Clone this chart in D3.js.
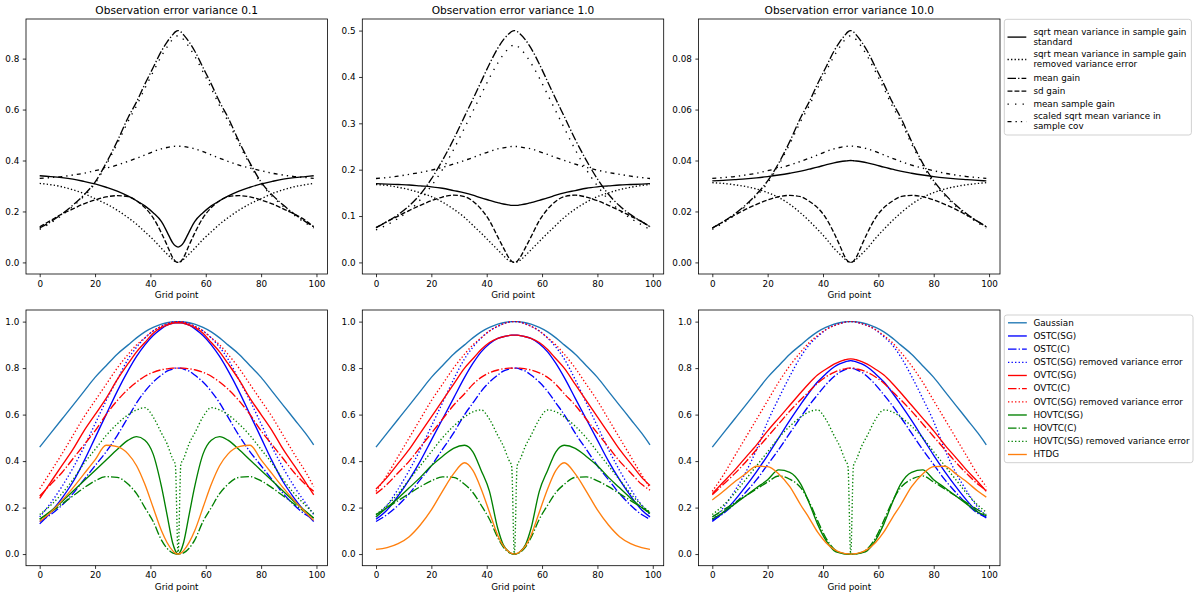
<!DOCTYPE html>
<html><head><meta charset="utf-8">
<script src="https://cdn.jsdelivr.net/npm/d3@7"></script>
<style>body{margin:0;background:#fff}svg{display:block}text{font-family:"DejaVu Sans",sans-serif;fill:#000}</style>
</head><body><svg id="c" width="1200" height="599"></svg>
<script>
// ---------- data ----------
const gridX = [0,4,8,12,16,20,24,28,32,35,38,41,44,46,48,49,50,51,52,54,56,59,62,65,68,72,76,80,84,88,92,96,99];

// top row, observation error variance 0.1
const top01_std    = [0.340,0.337,0.333,0.327,0.318,0.308,0.295,0.280,0.260,0.242,0.222,0.195,0.160,0.120,0.078,0.065,0.060,0.065,0.078,0.120,0.160,0.195,0.222,0.242,0.260,0.280,0.295,0.308,0.318,0.327,0.333,0.337,0.340];
const top01_rve    = [0.310,0.305,0.297,0.285,0.270,0.250,0.230,0.205,0.175,0.150,0.120,0.090,0.055,0.033,0.012,0.003,0.000,0.003,0.012,0.033,0.055,0.090,0.120,0.150,0.175,0.205,0.230,0.250,0.270,0.285,0.297,0.305,0.310];
const top01_mean   = [0.135,0.160,0.190,0.225,0.265,0.315,0.390,0.475,0.570,0.630,0.700,0.765,0.830,0.865,0.893,0.905,0.910,0.905,0.893,0.865,0.830,0.765,0.700,0.630,0.570,0.475,0.390,0.315,0.265,0.225,0.190,0.160,0.140];
const top01_sd     = [0.140,0.165,0.190,0.210,0.230,0.245,0.257,0.262,0.258,0.242,0.215,0.175,0.115,0.068,0.020,0.005,0.000,0.005,0.020,0.068,0.115,0.175,0.215,0.242,0.258,0.262,0.257,0.245,0.230,0.210,0.190,0.165,0.140];
const top01_msg    = [0.130,0.155,0.185,0.220,0.260,0.310,0.383,0.465,0.555,0.615,0.683,0.748,0.810,0.845,0.875,0.885,0.890,0.885,0.875,0.845,0.810,0.748,0.683,0.615,0.555,0.465,0.383,0.310,0.260,0.220,0.185,0.155,0.135];
const top01_scaled = [0.330,0.333,0.337,0.343,0.350,0.360,0.370,0.382,0.397,0.409,0.422,0.435,0.446,0.451,0.455,0.456,0.456,0.456,0.455,0.451,0.446,0.435,0.422,0.409,0.397,0.382,0.370,0.360,0.350,0.343,0.337,0.333,0.330];

// top row, observation error variance 1.0
const top1_std    = [0.170,0.169,0.168,0.167,0.165,0.163,0.160,0.155,0.150,0.145,0.139,0.134,0.129,0.126,0.124,0.123,0.123,0.123,0.124,0.126,0.129,0.134,0.139,0.145,0.150,0.155,0.160,0.163,0.165,0.167,0.168,0.169,0.170];
const top1_rve    = [0.168,0.166,0.162,0.157,0.150,0.142,0.130,0.115,0.097,0.080,0.063,0.045,0.027,0.015,0.004,0.001,0.000,0.001,0.004,0.015,0.027,0.045,0.063,0.080,0.097,0.115,0.130,0.142,0.150,0.157,0.162,0.166,0.168];
const top1_mean   = [0.075,0.088,0.103,0.122,0.147,0.180,0.220,0.265,0.315,0.352,0.390,0.428,0.462,0.480,0.493,0.498,0.500,0.498,0.493,0.480,0.462,0.428,0.390,0.352,0.315,0.265,0.220,0.180,0.147,0.122,0.103,0.088,0.077];
const top1_sd     = [0.075,0.088,0.100,0.112,0.123,0.133,0.141,0.145,0.142,0.132,0.115,0.090,0.055,0.032,0.010,0.0025,0.000,0.0025,0.010,0.032,0.055,0.090,0.115,0.132,0.142,0.145,0.141,0.133,0.123,0.112,0.100,0.088,0.077];
const top1_msg    = [0.070,0.081,0.095,0.112,0.135,0.165,0.200,0.243,0.290,0.326,0.362,0.398,0.430,0.448,0.462,0.467,0.470,0.467,0.462,0.448,0.430,0.398,0.362,0.326,0.290,0.243,0.200,0.165,0.135,0.112,0.095,0.081,0.071];
const top1_scaled = [0.181,0.183,0.186,0.190,0.194,0.199,0.205,0.212,0.220,0.226,0.233,0.239,0.245,0.247,0.249,0.250,0.250,0.250,0.249,0.247,0.245,0.239,0.233,0.226,0.220,0.212,0.205,0.199,0.194,0.190,0.186,0.183,0.181];

// top row, observation error variance 10.0
const top10_std    = [0.0320,0.0322,0.0325,0.0328,0.0332,0.0337,0.0343,0.0350,0.0358,0.0366,0.0374,0.0383,0.0391,0.0395,0.0398,0.0399,0.0400,0.0399,0.0398,0.0395,0.0391,0.0383,0.0374,0.0366,0.0358,0.0350,0.0343,0.0337,0.0332,0.0328,0.0325,0.0322,0.0320];
const top10_rve    = [0.0313,0.0310,0.0305,0.0298,0.0288,0.0274,0.0255,0.0228,0.0193,0.0163,0.0130,0.0095,0.0055,0.0033,0.0012,0.0003,0.0000,0.0003,0.0012,0.0033,0.0055,0.0095,0.0130,0.0163,0.0193,0.0228,0.0255,0.0274,0.0288,0.0298,0.0305,0.0310,0.0313];
const top10_mean   = [0.0135,0.0160,0.0190,0.0225,0.0268,0.0320,0.0390,0.0475,0.0570,0.0630,0.0700,0.0765,0.0830,0.0865,0.0893,0.0905,0.0910,0.0905,0.0893,0.0865,0.0830,0.0765,0.0700,0.0630,0.0570,0.0475,0.0390,0.0320,0.0268,0.0225,0.0190,0.0160,0.0140];
const top10_sd     = [0.0135,0.0160,0.0185,0.0208,0.0228,0.0245,0.0258,0.0263,0.0258,0.0240,0.0215,0.0175,0.0115,0.0068,0.0020,0.0005,0.0000,0.0005,0.0020,0.0068,0.0115,0.0175,0.0215,0.0240,0.0258,0.0263,0.0258,0.0245,0.0228,0.0208,0.0185,0.0160,0.0140];
const top10_msg    = [0.0130,0.0155,0.0185,0.0220,0.0262,0.0312,0.0383,0.0465,0.0555,0.0615,0.0683,0.0748,0.0810,0.0845,0.0875,0.0885,0.0890,0.0885,0.0875,0.0845,0.0810,0.0748,0.0683,0.0615,0.0555,0.0465,0.0383,0.0312,0.0262,0.0220,0.0185,0.0155,0.0135];
const top10_scaled = [0.0330,0.0333,0.0337,0.0343,0.0350,0.0360,0.0370,0.0382,0.0397,0.0409,0.0422,0.0435,0.0446,0.0451,0.0455,0.0456,0.0457,0.0456,0.0455,0.0451,0.0446,0.0435,0.0422,0.0409,0.0397,0.0382,0.0370,0.0360,0.0350,0.0343,0.0337,0.0333,0.0330];

// bottom row (shared Gaussian)
const gaussian = [0.460,0.520,0.580,0.640,0.700,0.760,0.810,0.860,0.900,0.930,0.956,0.975,0.989,0.995,0.999,1.000,1.000,1.000,0.999,0.995,0.989,0.975,0.956,0.930,0.900,0.860,0.810,0.760,0.700,0.640,0.580,0.520,0.470];

// bottom row, variance 0.1
const b01_ostcSG  = [0.130,0.180,0.240,0.310,0.400,0.500,0.600,0.700,0.790,0.850,0.900,0.940,0.970,0.985,0.993,0.995,0.995,0.995,0.993,0.985,0.970,0.940,0.900,0.850,0.790,0.700,0.600,0.500,0.400,0.310,0.240,0.180,0.140];
const b01_ostcC   = [0.140,0.170,0.210,0.260,0.320,0.380,0.440,0.510,0.590,0.650,0.700,0.740,0.770,0.787,0.796,0.800,0.800,0.800,0.796,0.787,0.770,0.740,0.700,0.650,0.590,0.510,0.440,0.380,0.320,0.260,0.210,0.170,0.150];
const b01_ostcRVE = [0.160,0.220,0.290,0.370,0.460,0.560,0.660,0.750,0.840,0.890,0.930,0.960,0.980,0.990,0.998,1.000,1.000,1.000,0.998,0.990,0.980,0.960,0.930,0.890,0.840,0.750,0.660,0.560,0.460,0.370,0.290,0.220,0.170];
const b01_ovtcSG  = [0.240,0.310,0.380,0.450,0.530,0.600,0.670,0.750,0.820,0.870,0.910,0.950,0.975,0.985,0.993,0.995,0.995,0.995,0.993,0.985,0.975,0.950,0.910,0.870,0.820,0.750,0.670,0.600,0.530,0.450,0.380,0.310,0.255];
const b01_ovtcC   = [0.250,0.300,0.350,0.410,0.470,0.530,0.600,0.660,0.710,0.740,0.765,0.782,0.793,0.797,0.800,0.800,0.800,0.800,0.800,0.797,0.793,0.782,0.765,0.740,0.710,0.660,0.600,0.530,0.470,0.410,0.350,0.300,0.270];
const b01_ovtcRVE = [0.280,0.355,0.430,0.510,0.590,0.660,0.730,0.800,0.860,0.900,0.930,0.960,0.980,0.990,0.998,1.000,1.000,1.000,0.998,0.990,0.980,0.960,0.930,0.900,0.860,0.800,0.730,0.660,0.590,0.510,0.430,0.355,0.290];
const b01_hovtcSG = [0.150,0.185,0.225,0.270,0.315,0.360,0.405,0.450,0.490,0.505,0.490,0.430,0.290,0.170,0.050,0.015,0.000,0.015,0.050,0.170,0.290,0.430,0.490,0.505,0.490,0.450,0.405,0.360,0.315,0.270,0.225,0.185,0.155];
const b01_hovtcC  = [0.150,0.180,0.215,0.250,0.285,0.315,0.333,0.330,0.300,0.260,0.200,0.140,0.060,0.025,0.005,0.001,0.000,0.001,0.005,0.025,0.060,0.140,0.200,0.260,0.300,0.330,0.333,0.315,0.285,0.250,0.215,0.180,0.155];
const b01_hovtcRVE= [0.170,0.210,0.260,0.320,0.390,0.450,0.510,0.560,0.600,0.620,0.630,0.590,0.520,0.475,0.410,0.385,0.000,0.385,0.410,0.475,0.520,0.590,0.630,0.620,0.600,0.560,0.510,0.450,0.390,0.320,0.260,0.210,0.175];
const b01_htdg    = [0.140,0.180,0.230,0.285,0.345,0.405,0.468,0.462,0.430,0.380,0.300,0.200,0.100,0.050,0.015,0.004,0.000,0.004,0.015,0.050,0.100,0.200,0.300,0.380,0.430,0.462,0.468,0.405,0.345,0.285,0.230,0.180,0.145];

// bottom row, variance 1.0
const b1_ostcSG  = [0.150,0.190,0.250,0.320,0.400,0.490,0.580,0.670,0.760,0.820,0.870,0.905,0.928,0.935,0.940,0.942,0.942,0.942,0.940,0.935,0.928,0.905,0.870,0.820,0.760,0.670,0.580,0.490,0.400,0.320,0.250,0.190,0.160];
const b1_ostcC   = [0.140,0.170,0.210,0.260,0.320,0.380,0.450,0.520,0.600,0.650,0.700,0.740,0.770,0.787,0.796,0.800,0.800,0.800,0.796,0.787,0.770,0.740,0.700,0.650,0.600,0.520,0.450,0.380,0.320,0.260,0.210,0.170,0.150];
const b1_ostcRVE = [0.160,0.210,0.280,0.360,0.450,0.550,0.650,0.750,0.840,0.890,0.930,0.960,0.980,0.990,0.998,1.000,1.000,1.000,0.998,0.990,0.980,0.960,0.930,0.890,0.840,0.750,0.650,0.550,0.450,0.360,0.280,0.210,0.170];
const b1_ovtcSG  = [0.280,0.330,0.390,0.450,0.520,0.590,0.660,0.730,0.800,0.840,0.880,0.910,0.928,0.935,0.940,0.942,0.942,0.942,0.940,0.935,0.928,0.910,0.880,0.840,0.800,0.730,0.660,0.590,0.520,0.450,0.390,0.330,0.295];
const b1_ovtcC   = [0.260,0.300,0.350,0.400,0.460,0.520,0.580,0.640,0.690,0.730,0.760,0.780,0.792,0.797,0.800,0.800,0.800,0.800,0.800,0.797,0.792,0.780,0.760,0.730,0.690,0.640,0.580,0.520,0.460,0.400,0.350,0.300,0.275];
const b1_ovtcRVE = [0.270,0.340,0.420,0.500,0.580,0.660,0.730,0.800,0.860,0.900,0.930,0.960,0.980,0.990,0.998,1.000,1.000,1.000,0.998,0.990,0.980,0.960,0.930,0.900,0.860,0.800,0.730,0.660,0.580,0.500,0.420,0.340,0.285];
const b1_hovtcSG = [0.160,0.200,0.240,0.285,0.330,0.380,0.420,0.455,0.468,0.440,0.360,0.270,0.110,0.040,0.010,0.002,0.000,0.002,0.010,0.040,0.110,0.270,0.360,0.440,0.468,0.455,0.420,0.380,0.330,0.285,0.240,0.200,0.175];
const b1_hovtcC  = [0.170,0.200,0.230,0.260,0.290,0.315,0.332,0.330,0.300,0.265,0.210,0.150,0.070,0.030,0.007,0.002,0.000,0.002,0.007,0.030,0.070,0.150,0.210,0.265,0.300,0.330,0.332,0.315,0.290,0.260,0.230,0.200,0.180];
const b1_hovtcRVE= [0.170,0.210,0.260,0.320,0.380,0.440,0.500,0.550,0.590,0.612,0.620,0.580,0.510,0.465,0.405,0.380,0.000,0.380,0.405,0.465,0.510,0.580,0.620,0.612,0.590,0.550,0.500,0.440,0.380,0.320,0.260,0.210,0.180];
const b1_htdg    = [0.020,0.028,0.045,0.075,0.125,0.190,0.270,0.345,0.393,0.360,0.280,0.180,0.080,0.035,0.010,0.003,0.000,0.003,0.010,0.035,0.080,0.180,0.280,0.360,0.393,0.345,0.270,0.190,0.125,0.075,0.045,0.028,0.020];

// bottom row, variance 10.0
const b10_ostcSG  = [0.140,0.180,0.230,0.290,0.355,0.425,0.500,0.575,0.645,0.695,0.740,0.775,0.805,0.818,0.827,0.830,0.832,0.830,0.827,0.818,0.805,0.775,0.740,0.695,0.645,0.575,0.500,0.425,0.355,0.290,0.230,0.180,0.155];
const b10_ostcC   = [0.145,0.175,0.215,0.265,0.320,0.385,0.450,0.520,0.590,0.640,0.685,0.728,0.764,0.782,0.794,0.798,0.800,0.798,0.794,0.782,0.764,0.728,0.685,0.640,0.590,0.520,0.450,0.385,0.320,0.265,0.215,0.175,0.160];
const b10_ostcRVE = [0.150,0.200,0.270,0.350,0.450,0.570,0.670,0.765,0.850,0.900,0.935,0.965,0.983,0.991,0.998,1.000,1.000,1.000,0.998,0.991,0.983,0.965,0.935,0.900,0.850,0.765,0.670,0.570,0.450,0.350,0.270,0.200,0.165];
const b10_ovtcSG  = [0.260,0.310,0.360,0.415,0.470,0.530,0.585,0.640,0.695,0.735,0.770,0.795,0.817,0.828,0.836,0.839,0.840,0.839,0.836,0.828,0.817,0.795,0.770,0.735,0.695,0.640,0.585,0.530,0.470,0.415,0.360,0.310,0.270];
const b10_ovtcC   = [0.255,0.300,0.345,0.395,0.450,0.505,0.560,0.615,0.665,0.700,0.735,0.762,0.782,0.791,0.797,0.800,0.800,0.800,0.797,0.791,0.782,0.762,0.735,0.700,0.665,0.615,0.560,0.505,0.450,0.395,0.345,0.300,0.275];
const b10_ovtcRVE = [0.270,0.340,0.420,0.500,0.580,0.660,0.740,0.810,0.870,0.910,0.940,0.965,0.983,0.991,0.998,1.000,1.000,1.000,0.998,0.991,0.983,0.965,0.940,0.910,0.870,0.810,0.740,0.660,0.580,0.500,0.420,0.340,0.290];
const b10_hovtcSG = [0.150,0.180,0.215,0.250,0.285,0.320,0.362,0.352,0.300,0.220,0.130,0.060,0.015,0.005,0.001,0.000,0.000,0.000,0.001,0.005,0.015,0.060,0.130,0.220,0.300,0.352,0.362,0.320,0.285,0.250,0.215,0.180,0.165];
const b10_hovtcC  = [0.160,0.190,0.220,0.250,0.280,0.310,0.336,0.322,0.285,0.225,0.145,0.070,0.022,0.007,0.001,0.000,0.000,0.000,0.001,0.007,0.022,0.070,0.145,0.225,0.285,0.322,0.336,0.310,0.280,0.250,0.220,0.190,0.170];
const b10_hovtcRVE= [0.170,0.210,0.260,0.320,0.380,0.440,0.500,0.550,0.590,0.612,0.620,0.580,0.510,0.465,0.405,0.380,0.000,0.380,0.405,0.465,0.510,0.580,0.620,0.612,0.590,0.550,0.500,0.440,0.380,0.320,0.260,0.210,0.180];
const b10_htdg    = [0.233,0.270,0.310,0.345,0.378,0.376,0.345,0.290,0.210,0.155,0.095,0.050,0.020,0.008,0.002,0.001,0.000,0.001,0.002,0.008,0.020,0.050,0.095,0.155,0.210,0.290,0.345,0.376,0.378,0.345,0.310,0.270,0.245];

// ticks / labels
const xTicks = [0,20,40,60,80,100];
const yTicksTop = [[0,0.2,0.4,0.6,0.8],[0,0.1,0.2,0.3,0.4,0.5],[0,0.02,0.04,0.06,0.08]];
const yFmtTop = [".1f",".1f",".2f"];
const yTicksBot = [0,0.2,0.4,0.6,0.8,1.0];
const titles = ["Observation error variance 0.1","Observation error variance 1.0","Observation error variance 10.0"];
const topLabels = [["sqrt mean variance in sample gain","standard"],["sqrt mean variance in sample gain","removed variance error"],["mean gain"],["sd gain"],["mean sample gain"],["scaled sqrt mean variance in","sample cov"]];
const botLabels = ["Gaussian","OSTC(SG)","OSTC(C)","OSTC(SG) removed variance error","OVTC(SG)","OVTC(C)","OVTC(SG) removed variance error","HOVTC(SG)","HOVTC(C)","HOVTC(SG) removed variance error","HTDG"];
const botColors = ["#1f77b4","#0000ff","#0000ff","#0000ff","#ff0000","#ff0000","#ff0000","#008000","#008000","#008000","#ff7f0e"];

const topSeries = [
  [top01_std,top01_rve,top01_mean,top01_sd,top01_msg,top01_scaled],
  [top1_std,top1_rve,top1_mean,top1_sd,top1_msg,top1_scaled],
  [top10_std,top10_rve,top10_mean,top10_sd,top10_msg,top10_scaled]
];
const botSeries = [
  [gaussian,b01_ostcSG,b01_ostcC,b01_ostcRVE,b01_ovtcSG,b01_ovtcC,b01_ovtcRVE,b01_hovtcSG,b01_hovtcC,b01_hovtcRVE,b01_htdg],
  [gaussian,b1_ostcSG,b1_ostcC,b1_ostcRVE,b1_ovtcSG,b1_ovtcC,b1_ovtcRVE,b1_hovtcSG,b1_hovtcC,b1_hovtcRVE,b1_htdg],
  [gaussian,b10_ostcSG,b10_ostcC,b10_ostcRVE,b10_ovtcSG,b10_ovtcC,b10_ovtcRVE,b10_hovtcSG,b10_hovtcC,b10_hovtcRVE,b10_htdg]
];

// ---------- styles / layout ----------
const LW = 1.35;
const DASH = {solid:null, dotted:"1.33,2.2", dashdot:"8.5,2.1,1.33,2.1", dashed:"4.9,2.1", loose:"1.33,6.2", dashdotdot:"4,4,1.33,4,1.33,4"};
const topDash = [DASH.solid,DASH.dotted,DASH.dashdot,DASH.dashed,DASH.loose,DASH.dashdotdot];
const botDash = [DASH.solid,DASH.solid,DASH.dashdot,DASH.dotted,DASH.solid,DASH.dashdot,DASH.dotted,DASH.solid,DASH.dashdot,DASH.dotted,DASH.solid];

const svg = d3.select("#c");
const lefts = [26, 362.3, 698.6], axW = 301.4;
const rowsY = [{t:19, b:274},{t:310, b:565.7}];
const FS = 8.8;

function panel(left, row, series, colors, dashes, yTicks, yFmt, title){
  const x = d3.scaleLinear().domain([0 - 0.05*99, 99 + 0.05*99]).range([left, left+axW]);
  const all = series.flat();
  const mn = d3.min(all), mx = d3.max(all), pad = 0.05*(mx-mn);
  const y = d3.scaleLinear().domain([mn-pad, mx+pad]).range([row.b, row.t]);
  const g = svg.append("g");
  const line = d3.line().x((d,i)=>x(gridX[i])).y(d=>y(d)).curve(d3.curveMonotoneX);
  series.forEach((s,i)=>{
    g.append("path").attr("d", line(s)).attr("fill","none")
      .attr("stroke", colors[i]).attr("stroke-width", LW)
      .attr("stroke-dasharray", dashes[i]).attr("stroke-linejoin","round");
  });
  const xa = svg.append("g").attr("transform",`translate(0,${row.b})`)
    .call(d3.axisBottom(x).tickValues(xTicks).tickFormat(d3.format("d")).tickSize(3.2).tickPadding(3.3).tickSizeOuter(0));
  const ya = svg.append("g").attr("transform",`translate(${left},0)`)
    .call(d3.axisLeft(y).tickValues(yTicks).tickFormat(d3.format(yFmt)).tickSize(3.2).tickPadding(3.5).tickSizeOuter(0));
  [xa,ya].forEach(a=>{
    a.select(".domain").remove();
    a.selectAll("line").attr("stroke","#000").attr("stroke-width",0.8);
    a.selectAll("text").attr("font-size",FS).attr("font-family","DejaVu Sans").attr("fill","#000");
  });
  svg.append("rect").attr("x",left).attr("y",row.t).attr("width",axW).attr("height",row.b-row.t)
    .attr("fill","none").attr("stroke","#000").attr("stroke-width",0.8);
  svg.append("text").attr("x",left+axW/2).attr("y",row.b+24.3).attr("text-anchor","middle")
    .attr("font-size",FS).text("Grid point");
  if(title) svg.append("text").attr("x",left+axW/2).attr("y",row.t-5.2).attr("text-anchor","middle")
    .attr("font-size",10.6).text(title);
}

for(let p=0;p<3;p++){
  panel(lefts[p], rowsY[0], topSeries[p], topSeries[p].map(()=>"#000"), topDash, yTicksTop[p], yFmtTop[p], titles[p]);
  panel(lefts[p], rowsY[1], botSeries[p], botColors, botDash, yTicksBot, ".1f", null);
}

// ---------- legends ----------
function legendBox(x0,y0,x1,y1){
  svg.append("rect").attr("x",x0).attr("y",y0).attr("width",x1-x0).attr("height",y1-y0)
    .attr("rx",2.6).attr("fill","#fff").attr("fill-opacity",0.8).attr("stroke","#cccccc").attr("stroke-width",0.9);
}
const hx0 = 1007.5, hx1 = 1026.3, tx = 1033.4;
legendBox(1004.3,19.3,1191.4,135);
const topRows = [[31.3,41.3],[53.7,63.7],[77.5],[90.3],[103.3],[115.8,125.8]];
topLabels.forEach((lab,i)=>{
  const rws = topRows[i];
  const hy = (rws[0]+rws[rws.length-1])/2 + 0.8;
  svg.append("line").attr("x1",hx0).attr("x2",hx1).attr("y1",hy).attr("y2",hy)
    .attr("stroke","#000").attr("stroke-width",LW).attr("stroke-dasharray",topDash[i]);
  lab.forEach((t,j)=>svg.append("text").attr("x",tx).attr("y",rws[j]+3.2).attr("font-size",FS).text(t));
});
legendBox(1004.3,315,1193,462.7);
botLabels.forEach((lab,i)=>{
  const cy = 322.3 + i*13.17;
  svg.append("line").attr("x1",hx0+0.5).attr("x2",hx1+0.5).attr("y1",cy+0.5).attr("y2",cy+0.5)
    .attr("stroke",botColors[i]).attr("stroke-width",LW).attr("stroke-dasharray",botDash[i]);
  svg.append("text").attr("x",tx).attr("y",cy+3.2).attr("font-size",FS).text(lab);
});
</script></body></html>
